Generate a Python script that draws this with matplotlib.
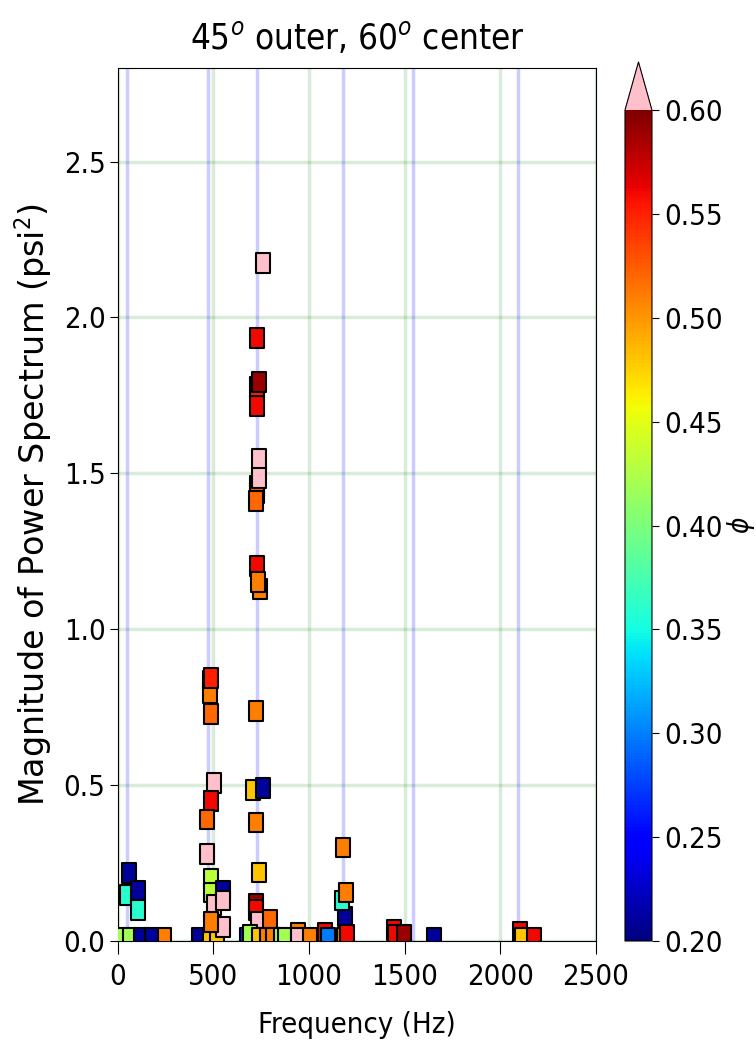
import numpy as np
import matplotlib as mpl
mpl.use('Agg')
import matplotlib.pyplot as plt
from matplotlib.path import Path

# peak frequencies marked with blue lines (Hz)
modeFreq = [47, 471, 727, 1177, 1543, 2092]

# frequency (Hz), magnitude (psi^2), equivalence ratio phi  (drawing order matters)
freq = [20, 61, 121, 179, 243,
        58, 47, 105, 105,
        421, 479, 520, 481, 482, 486, 486, 502, 486, 467, 467, 486, 486, 502,
        549, 549, 549, 486,
        759, 727, 727, 738, 727, 727, 727, 722, 738, 738, 743, 727, 733,
        722, 706, 758, 722, 738, 722, 722, 733, 795,
        675, 690, 740, 780, 810, 850, 876, 944, 941, 1006,
        1083, 1099, 1184, 1187, 1172, 1193, 1177, 1200,
        1445, 1449, 1497, 1652, 2105, 2113, 2177]
mag = [0.01, 0.01, 0.01, 0.01, 0.01,
       0.218, 0.148, 0.16, 0.10,
       0.01, 0.01, 0.01, 0.835, 0.795, 0.843, 0.728, 0.507, 0.45, 0.39, 0.28, 0.20, 0.155, 0.115,
       0.16, 0.13, 0.045, 0.06,
       2.174, 1.934, 1.777, 1.793, 1.716, 1.46, 1.437, 1.411, 1.546, 1.485, 1.13, 1.203, 1.151,
       0.737, 0.485, 0.49, 0.38, 0.22, 0.12, 0.10, 0.06, 0.067,
       0.01, 0.02, 0.01, 0.01, 0.01, 0.01, 0.01, 0.025, 0.01, 0.01,
       0.025, 0.01, 0.01, 0.078, 0.13, 0.155, 0.30, 0.02,
       0.035, 0.02, 0.02, 0.01, 0.03, 0.01, 0.01]
phi = [0.42, 0.42, 0.21, 0.21, 0.51,
       0.21, 0.36, 0.21, 0.36,
       0.21, 0.48, 0.48, 0.52, 0.51, 0.55, 0.52, 0.65, 0.56, 0.52, 0.65, 0.43, 0.43, 0.65,
       0.21, 0.65, 0.65, 0.51,
       0.65, 0.56, 0.55, 0.59, 0.56, 0.52, 0.52, 0.52, 0.65, 0.65, 0.51, 0.56, 0.51,
       0.51, 0.48, 0.21, 0.51, 0.48, 0.59, 0.56, 0.65, 0.52,
       0.27, 0.42, 0.48, 0.51, 0.51, 0.42, 0.42, 0.51, 0.65, 0.51,
       0.56, 0.30, 0.51, 0.21, 0.36, 0.51, 0.51, 0.56,
       0.56, 0.56, 0.59, 0.21, 0.56, 0.48, 0.56]

cbTicks = [0.20, 0.25, 0.30, 0.35, 0.40, 0.45, 0.50, 0.55, 0.60]

mpl.rcParams['font.family'] = 'DejaVu Sans'
mpl.rcParams['font.stretch'] = 'condensed'
mpl.rcParams['font.size'] = 21

fig = plt.figure(figsize=(7.56, 10.43), dpi=100)
ax = fig.add_axes([0.156, 0.0978, 0.632, 0.837])
cax = fig.add_axes([0.8267, 0.0978, 0.0357, 0.8428])

for f in modeFreq:
    ax.axvline(f, color='blue', alpha=0.2, lw=2.5, zorder=1)
ax.grid(True, color='green', alpha=0.15, lw=2.5, zorder=0)
ax.set_axisbelow(True)

cmap = plt.get_cmap('jet').copy()
cmap.set_over('pink')
box = Path([(-0.7, -1), (0.7, -1), (0.7, 1), (-0.7, 1), (-0.7, -1)],
           [Path.MOVETO, Path.LINETO, Path.LINETO, Path.LINETO, Path.CLOSEPOLY])
sc = ax.scatter(freq, mag, c=phi, cmap=cmap, vmin=0.2, vmax=0.6, marker=box,
                s=200, edgecolors='black', linewidths=1.5, zorder=3)

ax.set_xlim(0, 2500)
ax.set_ylim(0, 2.8)
ax.set_xticks([0, 500, 1000, 1500, 2000, 2500])
ax.set_yticks([0.0, 0.5, 1.0, 1.5, 2.0, 2.5])
ax.tick_params(axis='x', length=9, pad=7)
ax.tick_params(axis='y', length=5.5)
ax.set_xlabel('Frequency (Hz)', labelpad=14)
ax.set_ylabel('Magnitude of Power Spectrum (psi$^2$)', fontstretch='normal', fontsize=24, labelpad=7)
ax.set_title('45$^o$ outer, 60$^o$ center', fontsize=25, pad=14)

cb = fig.colorbar(sc, cax=cax, extend='max', extendfrac=0.058, ticks=cbTicks)
cb.ax.set_yticklabels(['%.2f' % t for t in cbTicks])
cb.ax.tick_params(length=5)
cb.set_label(r'$\phi$', fontsize=20, labelpad=2)

fig.savefig('out.png', dpi=100)
